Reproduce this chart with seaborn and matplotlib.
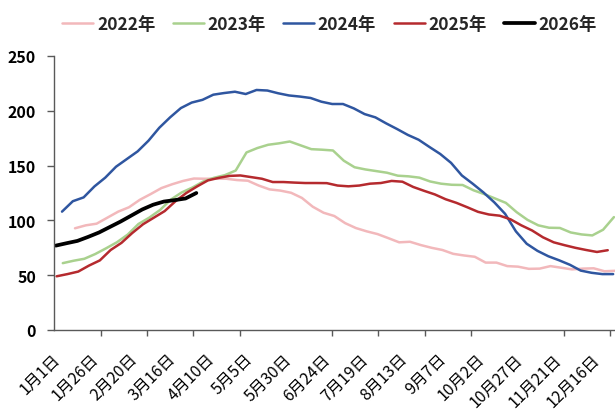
import numpy as np
import pandas as pd
import matplotlib
matplotlib.use("Agg")
import matplotlib.pyplot as plt
import matplotlib.transforms as mtransforms
import seaborn as sns

# ---------------- data ----------------
years = ["2022年", "2023年", "2024年", "2025年", "2026年"]

# first observation (day of year, 0 = 1月1日) for each weekly series
start_2022 = 13.4
start_2023 = 5.5
start_2024 = 5.0
start_2025 = 1.5
start_2026 = 1.0

v2022 = [92.8, 95.5, 97, 102.5, 108, 112, 118.8, 124, 129.5, 133, 136, 138.2,
         138, 138, 138, 136.8, 136.2, 131.8, 128.3, 127.2, 125.2, 120.5, 112.5,
         107, 104, 97.5, 93, 90, 87.5, 83.8, 80, 80.5, 77.5, 75, 73, 69.5, 68,
         66.8, 61.5, 61.5, 58.3, 57.8, 55.8, 56, 58.3, 56.8, 55.3, 56, 56.3,
         53.6, 54]
v2023 = [61, 63.2, 65, 69.3, 74.5, 80, 87, 96.7, 102.5, 109.5, 119, 125.5,
         130, 135.5, 138.9, 141.3, 145.5, 162, 166, 169, 170.3, 172, 168.5,
         165, 164.5, 163.8, 154.5, 148.5, 146.5, 145, 143.5, 140.8, 140.2, 139,
         135.5, 133.5, 132.5, 132.3, 127.5, 124, 120, 116, 107.5, 100.5, 95.5,
         93.3, 93.1, 89, 87.2, 86.3, 91.5, 103]
v2024 = [108, 117.5, 121, 131, 139, 149, 156, 163, 172.7, 184.5, 194, 202.5,
         207.5, 210, 214.7, 216.2, 217.4, 215.3, 219, 218.5, 216, 214, 213,
         211.7, 208.3, 206.2, 206.2, 202.2, 197, 194, 188.5, 183.4, 178, 173.6,
         167, 160.6, 152.5, 141, 133.5, 125.5, 116.5, 106, 90, 78.7, 72.2, 67.3,
         63.6, 59.5, 54.2, 52.2, 51, 51]
v2025 = [49, 51, 53.3, 58.8, 63.5, 73, 79.5, 88.5, 96.5, 102.5, 108.5, 117.5,
         125, 131, 136.5, 138.8, 140.6, 141, 139.5, 138, 135, 135, 134.5, 134.1,
         134.1, 134, 131.8, 131.1, 131.8, 133.5, 134.1, 136, 135.3, 130.5, 127,
         123.7, 119.3, 116, 112, 107.8, 105.4, 104.3, 101, 95.5, 90.8, 84.6, 80,
         77.4, 75, 73, 71.2, 72.8]
v2026 = [77, 79.2, 81.3, 85, 89, 94, 99, 104.5, 110, 114.3, 117.2, 118.5,
         120, 125]

tick_labels = ["1月1日", "1月26日", "2月20日", "3月16日", "4月10日", "5月5日",
               "5月30日", "6月24日", "7月19日", "8月13日", "9月7日", "10月2日",
               "10月27日", "11月21日", "12月16日"]

colors = ["#F2B8BB", "#A9D18E", "#2F56A0", "#B52A2E", "#000000"]

series = [(years[0], start_2022, v2022), (years[1], start_2023, v2023),
          (years[2], start_2024, v2024), (years[3], start_2025, v2025),
          (years[4], start_2026, v2026)]

frames = []
for name, s, vals in series:
    frames.append(pd.DataFrame({"day": s + 7 * np.arange(len(vals)),
                                "value": vals, "year": name}))
df = pd.concat(frames, ignore_index=True)

# ---------------- plot ----------------
sns.set_style("white")
plt.rcParams["font.family"] = ["Noto Sans CJK SC", "DejaVu Sans"]

fig = plt.figure(figsize=(6.15, 4.14), dpi=100)
ax = fig.add_axes([54.3 / 615, (414 - 331) / 414, (615 - 54.3) / 615, (331 - 57) / 414])

for i, name in enumerate(years):
    sub = df[df["year"] == name]
    sns.lineplot(data=sub, x="day", y="value", ax=ax, color=colors[i],
                 linewidth=2.7 if name == "2026年" else 1.8, label=name,
                 legend=False)

ax.set_xlim(0, 363.2)
ax.set_ylim(0, 250)
ax.set_yticks([0, 50, 100, 150, 200, 250])
ax.set_xlabel("")
ax.set_ylabel("")

for side in ["top", "right"]:
    ax.spines[side].set_visible(False)
for side in ["left", "bottom"]:
    ax.spines[side].set_color("#595959")
    ax.spines[side].set_linewidth(1.0)

# labels every 25 days, tick marks every 30 days
ax.set_xticks(np.arange(0, 351, 25))
ax.set_xticklabels(tick_labels, rotation=45, ha="right", va="top",
                   rotation_mode="anchor", fontsize=11.5, color="black")
ax.set_xticks(np.arange(0, 361, 30), minor=True)
ax.tick_params(axis="x", which="major", length=0, pad=14.5)
ax.tick_params(axis="x", which="minor", length=4.5, width=1, color="#595959",
               direction="out", bottom=True)
ax.tick_params(axis="y", length=5, width=1, color="#595959", direction="out",
               pad=8, labelsize=11.5, left=True, labelcolor="black")
for lab in ax.get_yticklabels():
    lab.set_fontweight("bold")
off = mtransforms.ScaledTranslation(-3 / 100, 0, fig.dpi_scale_trans)
for lab in ax.get_xticklabels():
    lab.set_transform(lab.get_transform() + off)

handles, labels = ax.get_legend_handles_labels()
fig.legend(handles, labels, loc="center", bbox_to_anchor=(0.536, 0.94),
           ncol=5, frameon=False, handlelength=1.8,
           handletextpad=0.2, columnspacing=1.0,
           prop={"family": ["Noto Sans CJK SC", "DejaVu Sans"], "size": 12.5,
                 "weight": "bold"})

fig.savefig("out.png", dpi=100)
